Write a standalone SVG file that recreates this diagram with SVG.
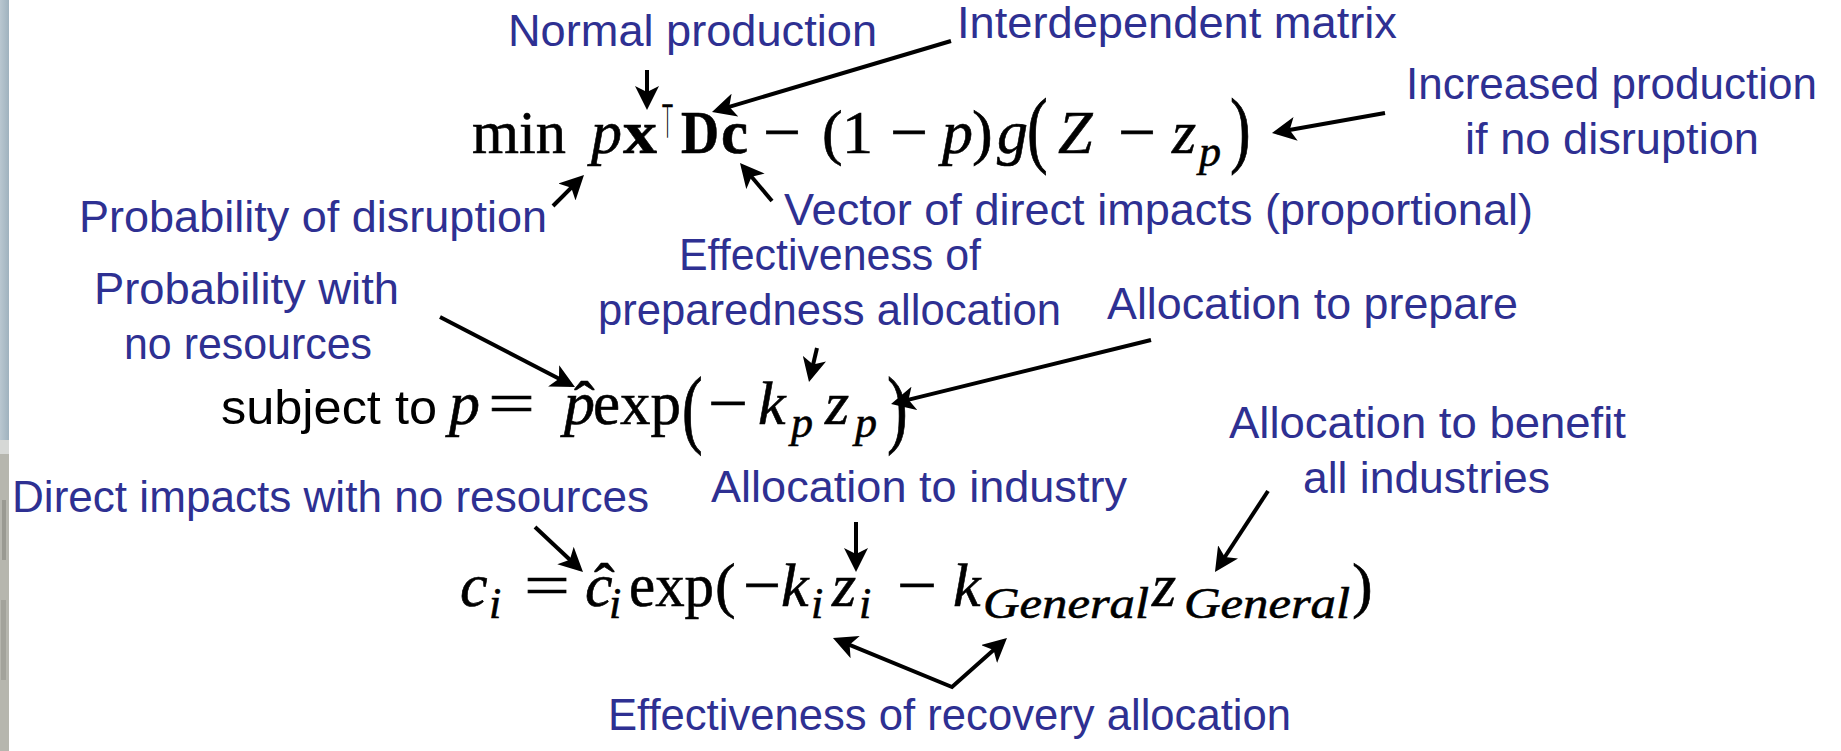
<svg xmlns="http://www.w3.org/2000/svg" width="1841" height="751" viewBox="0 0 1841 751">
<defs>
<style>
.lbl{font-family:"Liberation Sans",Arial,sans-serif;font-size:44px;fill:#2E3092}
.m{font-family:"Liberation Serif","Times New Roman",serif;font-size:62px;fill:#000;stroke:#000;stroke-width:0.6}
.i{font-style:italic}
.b{font-weight:bold}
.s{font-size:44px}
.sans{font-family:"Liberation Sans",Arial,sans-serif;font-size:49px;fill:#000}
.cn{fill:none;stroke:#000;stroke-width:4}
</style>
<marker id="ah" viewBox="0 0 10 10" refX="8" refY="5" markerWidth="24" markerHeight="24" markerUnits="userSpaceOnUse" orient="auto-start-reverse">
<path d="M0,0 L10,5 L0,10 L2.5,5 z" fill="#000"/>
</marker>
<linearGradient id="strip" x1="0" y1="0" x2="1" y2="0">
<stop offset="0" stop-color="#b9c7d0"/>
<stop offset="1" stop-color="#9fb2be"/>
</linearGradient>
</defs>
<rect width="1841" height="751" fill="#fff"/>
<g id="edge">
<rect x="0" y="0" width="9" height="440" fill="url(#strip)"/>
<rect x="0" y="440" width="9" height="14" fill="#d6d8d6"/>
<rect x="0" y="454" width="9" height="297" fill="#b6b6ae"/>
<rect x="2" y="500" width="4" height="60" fill="#9a9a92"/>
<rect x="1" y="600" width="5" height="80" fill="#a3a39b"/>
</g>

<g id="eq1">
<text class="m" x="472" y="153" textLength="94" lengthAdjust="spacingAndGlyphs">min</text>
<text class="m i" x="591" y="153">p</text>
<text class="m b" x="623" y="153" textLength="34" lengthAdjust="spacingAndGlyphs">x</text>
<text x="661" y="138" font-family="DejaVu Sans,sans-serif" font-size="48" textLength="13" lengthAdjust="spacingAndGlyphs">⊤</text>
<text class="m b" x="681" y="153" textLength="38" lengthAdjust="spacingAndGlyphs">D</text>
<text class="m b" x="721" y="153" textLength="27" lengthAdjust="spacingAndGlyphs">c</text>
<text class="m" x="763" y="153" textLength="38" lengthAdjust="spacingAndGlyphs">−</text>
<text class="m" x="822" y="153">(</text>
<text class="m" x="842" y="153">1</text>
<text class="m" x="890" y="153" textLength="38" lengthAdjust="spacingAndGlyphs">−</text>
<text class="m i" x="942" y="153">p</text>
<text class="m" x="972" y="153">)</text>
<text class="m i" x="997" y="153">g</text>
<text class="m" transform="translate(1027,157) scale(1,1.35)">(</text>
<text class="m i" x="1058" y="153">Z</text>
<text class="m" x="1118" y="153" textLength="38" lengthAdjust="spacingAndGlyphs">−</text>
<text class="m i" x="1172" y="153">z</text>
<text class="m i s" x="1199" y="166">p</text>
<text class="m" transform="translate(1230,157) scale(1,1.35)">)</text>
</g>

<g id="eq2">
<text class="sans" x="221" y="424" textLength="216" lengthAdjust="spacingAndGlyphs">subject to</text>
<text class="m i" x="449" y="424">p</text>
<text class="m" x="488" y="424" textLength="47" lengthAdjust="spacingAndGlyphs">=</text>
<text class="m i" x="564" y="424">p</text>
<text class="m" x="574" y="424">ˆ</text>
<text class="m" x="593" y="424" textLength="88" lengthAdjust="spacingAndGlyphs">exp</text>
<text class="m" transform="translate(682,437) scale(1,1.39)">(</text>
<text class="m" x="708" y="424" textLength="40" lengthAdjust="spacingAndGlyphs">−</text>
<text class="m i" x="758" y="424" font-size="66">k</text>
<text class="m i s" x="791" y="437" font-size="46">p</text>
<text class="m i" x="825" y="424" font-size="66">z</text>
<text class="m i s" x="855" y="437" font-size="46">p</text>
<text class="m" transform="translate(887,437) scale(1,1.39)">)</text>
</g>

<g id="eq3">
<text class="m i" x="460" y="606">c</text>
<text class="m i s" x="489" y="618">i</text>
<text class="m" x="524" y="606" textLength="46" lengthAdjust="spacingAndGlyphs">=</text>
<text class="m i" x="585" y="606">c</text>
<text class="m" x="594" y="606">ˆ</text>
<text class="m i s" x="609" y="618">i</text>
<text class="m" x="629" y="606" textLength="85" lengthAdjust="spacingAndGlyphs">exp</text>
<text class="m" x="715" y="606">(</text>
<text class="m" x="743" y="606" textLength="38" lengthAdjust="spacingAndGlyphs">−</text>
<text class="m i" x="781" y="606">k</text>
<text class="m i s" x="811" y="618">i</text>
<text class="m i" x="832" y="606">z</text>
<text class="m i s" x="859" y="618">i</text>
<text class="m" x="897" y="606" textLength="40" lengthAdjust="spacingAndGlyphs">−</text>
<text class="m i" x="953" y="606">k</text>
<text class="m i s" x="983" y="618" textLength="166" lengthAdjust="spacingAndGlyphs">General</text>
<text class="m i" x="1152" y="606">z</text>
<text class="m i s" x="1184" y="618" textLength="166" lengthAdjust="spacingAndGlyphs">General</text>
<text class="m" x="1352" y="606">)</text>
</g>

<g id="lbl-normal"><text class="lbl" x="508" y="46" textLength="369" lengthAdjust="spacingAndGlyphs">Normal production</text></g>
<g id="lbl-interdependent"><text class="lbl" x="957" y="38" textLength="440" lengthAdjust="spacingAndGlyphs">Interdependent matrix</text></g>
<g id="lbl-increased">
<text class="lbl" x="1406" y="99" textLength="411" lengthAdjust="spacingAndGlyphs">Increased production</text>
<text class="lbl" x="1465" y="154" textLength="294" lengthAdjust="spacingAndGlyphs">if no disruption</text>
</g>
<g id="lbl-probdisruption"><text class="lbl" x="79" y="232" textLength="468" lengthAdjust="spacingAndGlyphs">Probability of disruption</text></g>
<g id="lbl-vector"><text class="lbl" x="784" y="225" textLength="749" lengthAdjust="spacingAndGlyphs">Vector of direct impacts (proportional)</text></g>
<g id="lbl-effprep">
<text class="lbl" x="679" y="270" textLength="302" lengthAdjust="spacingAndGlyphs">Effectiveness of</text>
<text class="lbl" x="598" y="325" textLength="463" lengthAdjust="spacingAndGlyphs">preparedness allocation</text>
</g>
<g id="lbl-probnores">
<text class="lbl" x="94" y="304" textLength="305" lengthAdjust="spacingAndGlyphs">Probability with</text>
<text class="lbl" x="124" y="359" textLength="248" lengthAdjust="spacingAndGlyphs">no resources</text>
</g>
<g id="lbl-allocprep"><text class="lbl" x="1107" y="319" textLength="411" lengthAdjust="spacingAndGlyphs">Allocation to prepare</text></g>
<g id="lbl-allocbenefit">
<text class="lbl" x="1229" y="438" textLength="397" lengthAdjust="spacingAndGlyphs">Allocation to benefit</text>
<text class="lbl" x="1303" y="493" textLength="247" lengthAdjust="spacingAndGlyphs">all industries</text>
</g>
<g id="lbl-direct"><text class="lbl" x="12" y="512" textLength="637" lengthAdjust="spacingAndGlyphs">Direct impacts with no resources</text></g>
<g id="lbl-allocindustry"><text class="lbl" x="711" y="502" textLength="416" lengthAdjust="spacingAndGlyphs">Allocation to industry</text></g>
<g id="lbl-effrecovery"><text class="lbl" x="608" y="730" textLength="683" lengthAdjust="spacingAndGlyphs">Effectiveness of recovery allocation</text></g>

<g id="connectors" class="cn">
<path class="cn" marker-end="url(#ah)" d="M647,70 L647,105.2"/>
<path class="cn" marker-end="url(#ah)" d="M951,41 L716.6,110.6"/>
<path class="cn" marker-end="url(#ah)" d="M553,206 L580.6,178.4"/>
<path class="cn" marker-end="url(#ah)" d="M772,201 L743.1,166.7"/>
<path class="cn" marker-end="url(#ah)" d="M1385,113 L1276.7,132.2"/>
<path class="cn" marker-end="url(#ah)" d="M440,317 L570.7,384.8"/>
<path class="cn" marker-end="url(#ah)" d="M817,348 L810.1,377.3"/>
<path class="cn" marker-end="url(#ah)" d="M1151,340 L895.7,402.9"/>
<path class="cn" marker-end="url(#ah)" d="M535,527 L579.5,568.7"/>
<path class="cn" marker-end="url(#ah)" d="M856,522 L856,567.2"/>
<path class="cn" marker-end="url(#ah)" d="M1268,491 L1217.6,568"/>
<path class="cn" marker-start="url(#ah)" marker-end="url(#ah)" d="M837.4,639.8 L952,687 L1003.4,641.2"/>
</g>
</svg>
